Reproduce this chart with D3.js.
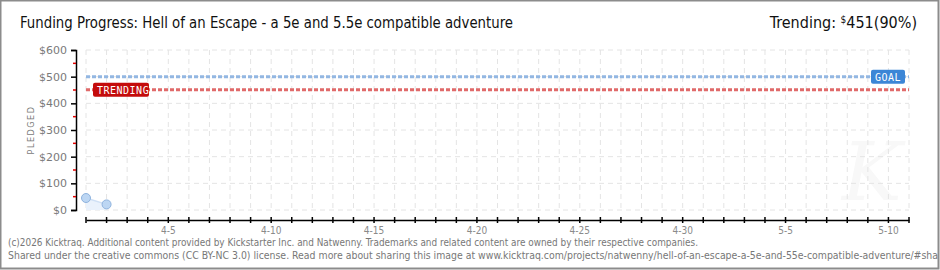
<!DOCTYPE html>
<html>
<head>
<meta charset="utf-8">
<script src="https://cdnjs.cloudflare.com/ajax/libs/d3/7.8.5/d3.min.js"></script>
<style>
  body { margin: 0; background: #fff; }
  text { font-family: "DejaVu Sans Condensed", "DejaVu Sans", sans-serif; }
</style>
</head>
<body>
<script>
const width = 940,
      height = 270;

// data
const days = ["2026-04-01", "2026-04-02"];
const pledged = [45, 21];
const goal = 500;
const trending = 451;
const yTicks = [0, 100, 200, 300, 400, 500, 600];
const xLabels = ["4-5", "4-10", "4-15", "4-20", "4-25", "4-30", "5-5", "5-10"];

const parse = d3.timeParse("%Y-%m-%d");
const points = days.map((d, i) => ({ date: parse(d), value: pledged[i] }));

var svg = d3.select("body").append("svg")
  .attr("width", width)
  .attr("height", height);

// frame
svg.append("rect")
  .attr("x", 0.5).attr("y", 0.5)
  .attr("width", width - 2).attr("height", height - 2)
  .attr("fill", "#fff")
  .attr("stroke", "#8c8c8c")
  .attr("stroke-width", 2);

var x = d3.scaleTime()
  .domain([parse("2026-04-01"), parse("2026-05-11")])
  .range([86, 909]);

var y = d3.scaleLinear()
  .domain([0, 600])
  .range([210, 50]);

// watermark
svg.append("text")
  .attr("x", 872).attr("y", 200)
  .attr("text-anchor", "middle")
  .style("font-family", "DejaVu Serif")
  .style("font-style", "italic")
  .style("font-size", "80px")
  .attr("fill", "#f8f8f8")
  .text("K");

// grid
var allDays = d3.timeDay.range(x.domain()[0], d3.timeDay.offset(x.domain()[1], 1));
svg.append("g").selectAll("line")
  .data(allDays)
  .enter().append("line")
  .attr("x1", d => x(d)).attr("x2", d => x(d))
  .attr("y1", y(600)).attr("y2", y(0))
  .attr("stroke", "#e4e4e4")
  .attr("stroke-dasharray", "5,4");

svg.append("g").selectAll("line")
  .data(yTicks)
  .enter().append("line")
  .attr("x1", x.range()[0]).attr("x2", x.range()[1])
  .attr("y1", d => y(d)).attr("y2", d => y(d))
  .attr("stroke", "#e4e4e4")
  .attr("stroke-dasharray", "5,4");

// area + line
var area = d3.area()
  .x(d => x(d.date))
  .y0(y(0))
  .y1(d => y(d.value));

svg.append("path")
  .datum(points)
  .attr("d", area)
  .attr("fill", "#eaf2fc");

svg.append("path")
  .datum(points)
  .attr("d", d3.line().x(d => x(d.date)).y(d => y(d.value)))
  .attr("fill", "none")
  .attr("stroke", "#cfe0f5")
  .attr("stroke-width", 1.5);

svg.append("g").selectAll("circle")
  .data(points)
  .enter().append("circle")
  .attr("cx", d => x(d.date))
  .attr("cy", d => y(d.value))
  .attr("r", 4.5)
  .attr("fill", "#bcd6f3")
  .attr("stroke", "#8fb3de")
  .attr("stroke-width", 1);

// goal and trending lines
svg.append("line")
  .attr("x1", x.range()[0]).attr("x2", x.range()[1])
  .attr("y1", y(goal)).attr("y2", y(goal))
  .attr("stroke", "#93b7e2")
  .attr("stroke-width", 3)
  .attr("stroke-dasharray", "4,2");

svg.append("line")
  .attr("x1", x.range()[0]).attr("x2", x.range()[1])
  .attr("y1", y(trending)).attr("y2", y(trending))
  .attr("stroke", "#e06a6a")
  .attr("stroke-width", 3)
  .attr("stroke-dasharray", "4,2");

// badges
function badge(cx, cy, w, label, fill) {
  var g = svg.append("g");
  g.append("rect")
    .attr("x", cx).attr("y", cy - 7)
    .attr("width", w).attr("height", 14)
    .attr("rx", 2)
    .attr("fill", fill);
  g.append("text")
    .attr("x", cx + 4).attr("y", cy + 4)
    .attr("fill", "#fff")
    .style("font-family", "DejaVu Sans Mono")
    .style("font-size", "10px")
    .style("letter-spacing", "0.5px")
    .text(label);
}
badge(871, y(goal), 34, "GOAL", "#3c86d6");
badge(93, y(trending), 56, "TRENDING", "#c40c0c");

// y axis
var yAxis = svg.append("g")
  .attr("transform", "translate(76,0)")
  .call(d3.axisLeft(y).tickValues(yTicks).tickSize(5).tickPadding(4).tickFormat(d => "$" + d));
yAxis.select(".domain").attr("stroke", "#000").attr("stroke-width", 1.5);
yAxis.selectAll(".tick line").attr("stroke", "#000").attr("stroke-width", 1.5);
yAxis.selectAll("text")
  .attr("fill", "#7a7a7a")
  .style("font-family", "DejaVu Sans")
  .style("font-size", "11px");

svg.append("g").selectAll("line")
  .data(d3.range(50, 600, 100))
  .enter().append("line")
  .attr("x1", 73).attr("x2", 76)
  .attr("y1", d => y(d)).attr("y2", d => y(d))
  .attr("stroke", "#e00000")
  .attr("stroke-width", 1.5);

svg.append("text")
  .attr("transform", "translate(34," + y(300) + ") rotate(-90)")
  .attr("text-anchor", "middle")
  .attr("fill", "#7a7a7a")
  .style("font-size", "9px")
  .style("letter-spacing", "1.5px")
  .text("PLEDGED");

// x axis
var xAxis = svg.append("g")
  .attr("transform", "translate(0,220)")
  .call(d3.axisBottom(x).ticks(d3.timeDay.every(1)).tickSize(0).tickFormat(""));
xAxis.select(".domain").attr("stroke", "#000").attr("stroke-width", 1.5);

svg.append("g").selectAll("line")
  .data(allDays)
  .enter().append("line")
  .attr("x1", d => x(d)).attr("x2", d => x(d))
  .attr("y1", 217).attr("y2", 223)
  .attr("stroke", "#000")
  .attr("stroke-width", 1.5);

var fmt = d3.timeFormat("%-m-%-d");
svg.append("g").selectAll("text")
  .data(allDays.filter(d => xLabels.indexOf(fmt(d)) >= 0))
  .enter().append("text")
  .attr("x", d => x(d))
  .attr("y", 234)
  .attr("text-anchor", "middle")
  .attr("fill", "#8a8a8a")
  .style("font-size", "10px")
  .text(d => fmt(d));

// title
svg.append("text")
  .attr("x", 20).attr("y", 28)
  .attr("fill", "#111")
  .style("font-size", "16px")
  .attr("textLength", 493)
  .attr("lengthAdjust", "spacingAndGlyphs")
  .text("Funding Progress: Hell of an Escape - a 5e and 5.5e compatible adventure");

var tr = svg.append("text")
  .attr("x", 917).attr("y", 28)
  .attr("text-anchor", "end")
  .attr("fill", "#111")
  .style("font-size", "16px");
tr.append("tspan").text("Trending:  ");
tr.append("tspan").style("font-size", "10px").attr("dy", -5).text("$");
tr.append("tspan").attr("dy", 5).text(trending + "(" + Math.round(trending / goal * 100) + "%)");

// footer
svg.append("text")
  .attr("x", 8).attr("y", 246)
  .attr("fill", "#777")
  .style("font-size", "10px")
  .attr("textLength", 690)
  .attr("lengthAdjust", "spacingAndGlyphs")
  .text("(c)2026 Kicktraq. Additional content provided by Kickstarter Inc. and Natwenny. Trademarks and related content are owned by their respective companies.");

svg.append("text")
  .attr("x", 8).attr("y", 259)
  .attr("fill", "#777")
  .style("font-size", "10px")
  .attr("textLength", 930)
  .attr("lengthAdjust", "spacingAndGlyphs")
  .text("Shared under the creative commons (CC BY-NC 3.0) license. Read more about sharing this image at www.kicktraq.com/projects/natwenny/hell-of-an-escape-a-5e-and-55e-compatible-adventure/#sha");
</script>
</body>
</html>
